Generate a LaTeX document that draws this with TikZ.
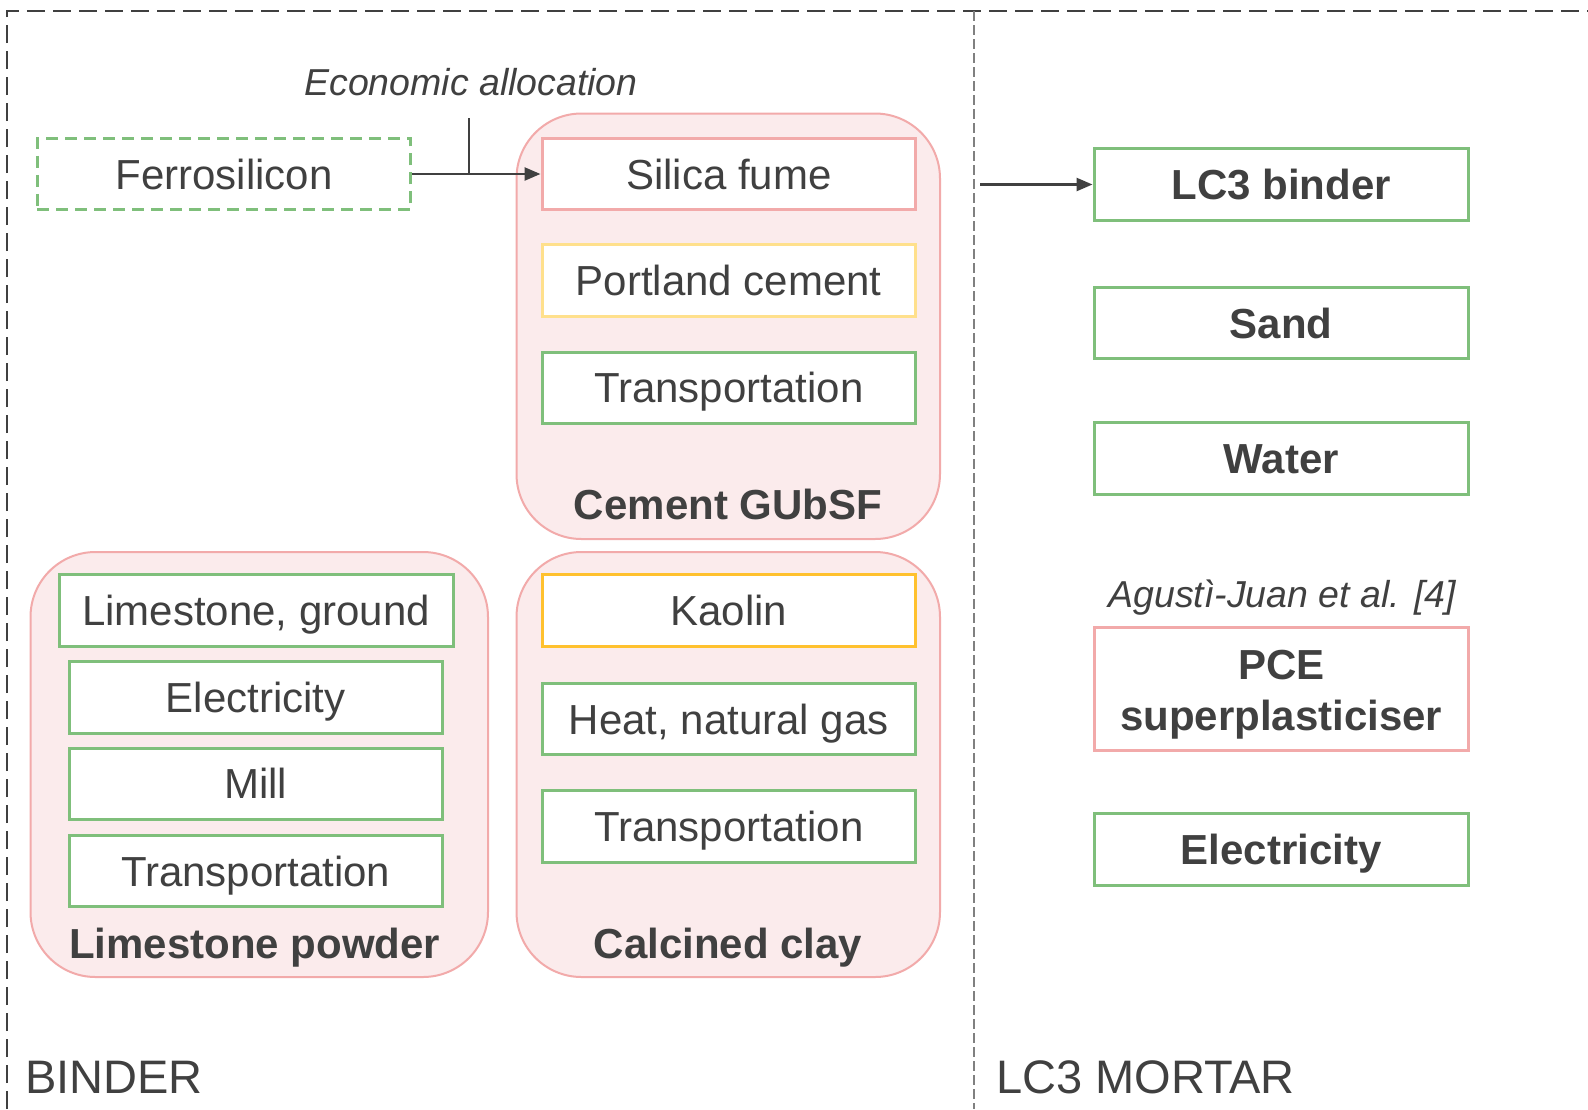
\documentclass[tikz,border=0pt]{standalone}
\usepackage{fontspec}
\setmainfont{Liberation Sans}
\usetikzlibrary{arrows.meta}
\definecolor{ink}{HTML}{404040}
\definecolor{leafgreen}{HTML}{7FBF7B}
\definecolor{rosepink}{HTML}{F2AAAA}
\definecolor{rosefill}{HTML}{FBEBEC}
\definecolor{paleyellow}{HTML}{FFE08C}
\definecolor{ambergold}{HTML}{FFC12E}
\definecolor{divider}{HTML}{808080}
\begin{document}
\begin{tikzpicture}[x=1pt,y=-1pt,
  boxitem/.style={draw, line width=3pt, fill=white, minimum width=373.5pt,
    minimum height=71.5pt, inner sep=0pt, text height=30pt, text depth=0pt,
    font=\fontsize{42}{50}\selectfont, text=ink},
  boldtext/.style={font=\fontsize{42}{50}\selectfont\bfseries, text=ink,
    inner sep=0pt, text height=30pt, text depth=0pt},
  group/.style={draw=rosepink, line width=2pt, fill=rosefill,
    rounded corners=65pt, inner sep=0pt},
  note/.style={font=\fontsize{37.5}{45}\selectfont\itshape, text=ink,
    inner sep=0pt, text height=27pt, text depth=0pt},
  section/.style={font=\fontsize{47}{56}\selectfont, text=ink, inner sep=0pt,
    anchor=base west},
  flow/.style={draw=ink, line width=2.5pt, -{Triangle[length=16pt,width=13pt]}},
]
\useasboundingbox (0,0) rectangle (1588,1109);
\fill[white] (0,0) rectangle (1588,1109);

% outer frame and the divider between the two stages
\coordinate (frameBL) at (7,1109);
\coordinate (frameTL) at (7,11);
\coordinate (frameTR) at (1588,11);
\draw[ink, line width=2.5pt, dash pattern=on 18pt off 8pt]
  (frameBL) -- (frameTL) -- (frameTR);
\coordinate (divTop) at (974,11);
\coordinate (divBot) at (974,1109);
\draw[divider, line width=1.5pt, dash pattern=on 10pt off 4pt] (divTop) -- (divBot);

% process groups
\node[group, minimum width=423.5pt, minimum height=425.5pt] (gubsf) at (728.25,326.25) {};
\node[group, minimum width=457.5pt, minimum height=425pt] (lspowder) at (259.25,764.5) {};
\node[group, minimum width=423.5pt, minimum height=425pt] (clay) at (728.25,764.5) {};

% foreground system
\node[boxitem, draw=leafgreen, dash pattern=on 12pt off 7pt] (ferro) at (224,174) {Ferrosilicon};
\node[boxitem, draw=rosepink] (silica) at (728.75,174) {Silica fume};
\node[boxitem, draw=paleyellow] (portland) at (728.75,280.5) {Portland cement};
\node[boxitem, draw=leafgreen] (transA) at (728.75,387.75) {Transportation};
\node[boldtext] (gubsfLabel) at (728,504.5) {Cement GUbSF};

\node[boxitem, draw=leafgreen, minimum width=394pt] (lsground) at (256,610.5) {Limestone, ground};
\node[boxitem, draw=leafgreen] (elecA) at (255.75,697.5) {Electricity};
\node[boxitem, draw=leafgreen] (mill) at (255.75,783.75) {Mill};
\node[boxitem, draw=leafgreen] (transB) at (255.75,871) {Transportation};
\node[boldtext] (lsLabel) at (254.7,943) {Limestone powder};

\node[boxitem, draw=ambergold] (kaolin) at (728.75,610.5) {Kaolin};
\node[boxitem, draw=leafgreen] (heat) at (728.75,719) {Heat, natural gas};
\node[boxitem, draw=leafgreen] (transC) at (728.75,826.5) {Transportation};
\node[boldtext] (clayLabel) at (728,943) {Calcined clay};

% mortar stage
\node[boxitem, draw=leafgreen, minimum width=374.5pt, font=\fontsize{42}{50}\selectfont\bfseries] (lc3) at (1281.25,184.5) {LC3 binder};
\node[boxitem, draw=leafgreen, minimum width=374.5pt, font=\fontsize{42}{50}\selectfont\bfseries] (sand) at (1281.25,323) {Sand};
\node[boxitem, draw=leafgreen, minimum width=374.5pt, font=\fontsize{42}{50}\selectfont\bfseries] (water) at (1281.25,458.5) {Water};
\node[boxitem, draw=rosepink, minimum width=374.5pt, minimum height=123.5pt] (pce) at (1281.25,688.75) {};
\node[boldtext] (pceA) at (1281.25,664) {PCE};
\node[boldtext] (pceB) at (1281.25,715.5) {superplasticiser};
\node[boxitem, draw=leafgreen, minimum width=374.5pt, font=\fontsize{42}{50}\selectfont\bfseries] (elecB) at (1281.25,849.5) {Electricity};

% annotations
\node[note] (alloc) at (471,81.5) {Economic allocation};
\node[note] (source) at (1282,594) {Agustì-Juan et al. [4]};
\node[section] (binderTitle) at (25,1093) {BINDER};
\node[section] (mortarTitle) at (996,1093) {LC3 MORTAR};

% flows
\draw[flow] (ferro.east) -- (silica.west);
\coordinate (allocTop) at (469,118);
\draw[ink, line width=1.5pt] (allocTop) -- (allocTop |- ferro.east);
\coordinate (binderOut) at (980,184.5);
\draw[flow] (binderOut) -- (lc3.west);
\end{tikzpicture}
\end{document}
